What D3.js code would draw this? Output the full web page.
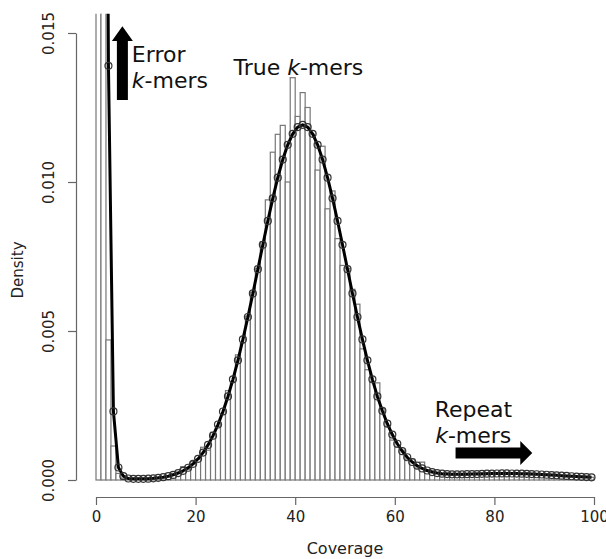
<!DOCTYPE html>
<html><head><meta charset="utf-8">
<script src="https://cdn.jsdelivr.net/npm/d3@7"></script>
<style>
html,body{margin:0;padding:0;background:#fff;}
svg{display:block;font-family:"DejaVu Sans",sans-serif;}
</style></head>
<body><svg id="c" width="606" height="559"></svg>
<script>
// Histogram bins (coverage 0..99, width 1) - density
const binStarts = d3.range(0, 100);
const barDensity = [
 0.052,0.021,0.0047,0.00114,0.00022,0.00006,0.00004,0.00003,0.00003,0.00004,
 0.00005,0.00005,0.00008,0.00011,0.00012,0.00022,0.00027,0.00045,0.00036,0.00062,
 0.0007,0.0011,0.0010,0.0016,0.0018,0.0022,0.0030,0.0033,0.0042,0.0046,
 0.0055,0.0063,0.0071,0.0080,0.0094,0.0110,0.0116,0.0119,0.0100,0.0135,
 0.0122,0.0130,0.0125,0.0116,0.0104,0.0112,0.0091,0.0097,0.0081,0.0072,
 0.0071,0.0064,0.0059,0.0044,0.0037,0.0033,0.00326,0.0024,0.0018,0.00134,
 0.0011,0.0010,0.0007,0.0007,0.0004,0.0006,0.0003,0.0003,0.00022,0.00018,
 0.00024,0.00017,0.00021,0.00016,0.00022,0.00019,0.00023,0.00018,0.00024,0.0002,
 0.00023,0.00021,0.00025,0.0002,0.00023,0.00019,0.00022,0.00018,0.0002,0.00017,
 0.00019,0.00015,0.00017,0.00013,0.00015,0.00012,0.00013,0.0001,0.00011,0.00009
];
// Fitted model curve, evaluated at bin mid-points
const curveX = d3.range(0.5, 100, 1);
const curveDensity = [
 0.09,0.045,0.0139,0.0023,0.00042,0.00013,0.00005,0.00004,0.00004,0.00004,
 0.000044,0.000056,0.000072,0.000095,0.000128,0.000171,0.000231,0.000309,0.000411,0.000543,
 0.000711,0.00092,0.001177,0.001489,0.001862,0.002299,0.002804,0.003377,0.004017,0.004717,
 0.005469,0.00626,0.007074,0.007892,0.008693,0.009452,0.010146,0.010752,0.011248,0.011617,
 0.011844,0.01192,0.011844,0.011617,0.011248,0.010752,0.010146,0.009452,0.008693,0.007892,
 0.007074,0.00626,0.005469,0.004717,0.004017,0.003377,0.002804,0.002324,0.00189,0.001524,
 0.001217,0.000967,0.000764,0.000604,0.00048,0.000387,0.000318,0.000267,0.000234,0.000211,
 0.000198,0.000192,0.00019,0.000192,0.000195,0.000198,0.0002,0.000206,0.000212,0.000216,
 0.000218,0.00022,0.00022,0.000218,0.000216,0.000212,0.000206,0.0002,0.000193,0.000185,
 0.000176,0.000166,0.000156,0.000146,0.000136,0.000126,0.000116,0.000107,0.000098,0.000089
];
const xTicks = [0,20,40,60,80,100];
const yTicks = [0,0.005,0.010,0.015];
const yTickLabels = ["0.000","0.005","0.010","0.015"];

const svg = d3.select("#c");
const x = d3.scaleLinear().domain([0,100]).range([96,594]);
const y = d3.scaleLinear().domain([0,0.015]).range([480,33]);
const yTop = 0.01565;

svg.append("defs").append("clipPath").attr("id","clip")
  .append("rect").attr("x",76).attr("y",y(yTop)).attr("width",540).attr("height",y(0)-y(yTop)+20);

const plot = svg.append("g").attr("clip-path","url(#clip)");

plot.selectAll("rect.bar").data(binStarts).join("rect")
  .attr("class","bar")
  .attr("x", d=>x(d)).attr("width", x(1)-x(0))
  .attr("y", (d,i)=>y(barDensity[i])).attr("height",(d,i)=>y(0)-y(barDensity[i]))
  .attr("fill","#fff").attr("stroke","#777").attr("stroke-width",1.2);

const pts = curveX.map((c,i)=>[c,curveDensity[i]]);
plot.append("path").datum(pts)
  .attr("d", d3.line().x(d=>x(d[0])).y(d=>y(d[1])))
  .attr("fill","none").attr("stroke","#000").attr("stroke-width",3).attr("stroke-linejoin","round");

plot.selectAll("circle.pt").data(pts.slice(2)).join("circle")
  .attr("class","pt")
  .attr("cx",d=>x(d[0])).attr("cy",d=>y(d[1])).attr("r",3.5)
  .attr("fill","none").attr("stroke","#333").attr("stroke-width",1.2);

// Axes
const xAxis = svg.append("g").attr("transform","translate(0,497)")
  .call(d3.axisBottom(x).tickValues(xTicks).tickSize(8).tickSizeOuter(0).tickPadding(6).tickFormat(d3.format("d")));
const yAxis = svg.append("g").attr("transform","translate(76,0)")
  .call(d3.axisLeft(y).tickValues(yTicks).tickSize(8).tickSizeOuter(0).tickFormat((d,i)=>yTickLabels[i]));
[xAxis,yAxis].forEach(a=>{
  a.selectAll("path,line").attr("stroke","#666").attr("stroke-width",1.2);
  a.selectAll("text").attr("fill","#222").style("font-size","15px").style("font-family","DejaVu Sans");
});
yAxis.selectAll(".tick").each(function(){
  d3.select(this).select("text").attr("transform","translate(-27,0) rotate(-90)")
    .attr("x",0).attr("y",0).attr("dy","0.35em").attr("text-anchor","middle");
});

svg.append("text").attr("x",345).attr("y",554).attr("text-anchor","middle")
  .style("font-size","16px").attr("fill","#222").text("Coverage");
svg.append("text").attr("transform","translate(23,270) rotate(-90)").attr("text-anchor","middle")
  .style("font-size","15px").attr("fill","#222").text("Density");

// Annotations (data coordinates)
function kmers(g, cx, cy, prefix){
  const t = g.append("text").attr("x",x(cx)).attr("y",y(cy)).style("font-size","22px").attr("fill","#111");
  if(prefix) t.append("tspan").text(prefix);
  t.append("tspan").style("font-style","italic").text("k");
  t.append("tspan").text("-mers");
  return t;
}
svg.append("text").attr("x",x(7.2)).attr("y",y(0.01403)).style("font-size","22px").attr("fill","#111").text("Error");
kmers(svg, 7.2, 0.01316);
kmers(svg, 27.6, 0.01359, "True ");
svg.append("text").attr("x",x(68.0)).attr("y",y(0.00212)).style("font-size","22px").attr("fill","#111").text("Repeat");
kmers(svg, 68.1, 0.00124);

// Up arrow (error k-mers)
const ua = {x:5.3, y0:0.01275, y1:0.01523, head:0.01473};
svg.append("path").attr("fill","#000").attr("d",
  `M${x(ua.x)-5.5},${y(ua.y0)} L${x(ua.x)-5.5},${y(ua.head)} L${x(ua.x)-10.5},${y(ua.head)} L${x(ua.x)},${y(ua.y1)} L${x(ua.x)+10.5},${y(ua.head)} L${x(ua.x)+5.5},${y(ua.head)} L${x(ua.x)+5.5},${y(ua.y0)} Z`);
// Right arrow (repeat k-mers)
const ra = {x0:72.2, x1:87.6, y:0.00091, head:85.2};
svg.append("path").attr("fill","#000").attr("d",
  `M${x(ra.x0)},${y(ra.y)-5.5} L${x(ra.head)},${y(ra.y)-5.5} L${x(ra.head)},${y(ra.y)-12} L${x(ra.x1)},${y(ra.y)} L${x(ra.head)},${y(ra.y)+12} L${x(ra.head)},${y(ra.y)+5.5} L${x(ra.x0)},${y(ra.y)+5.5} Z`);
</script></body></html>
